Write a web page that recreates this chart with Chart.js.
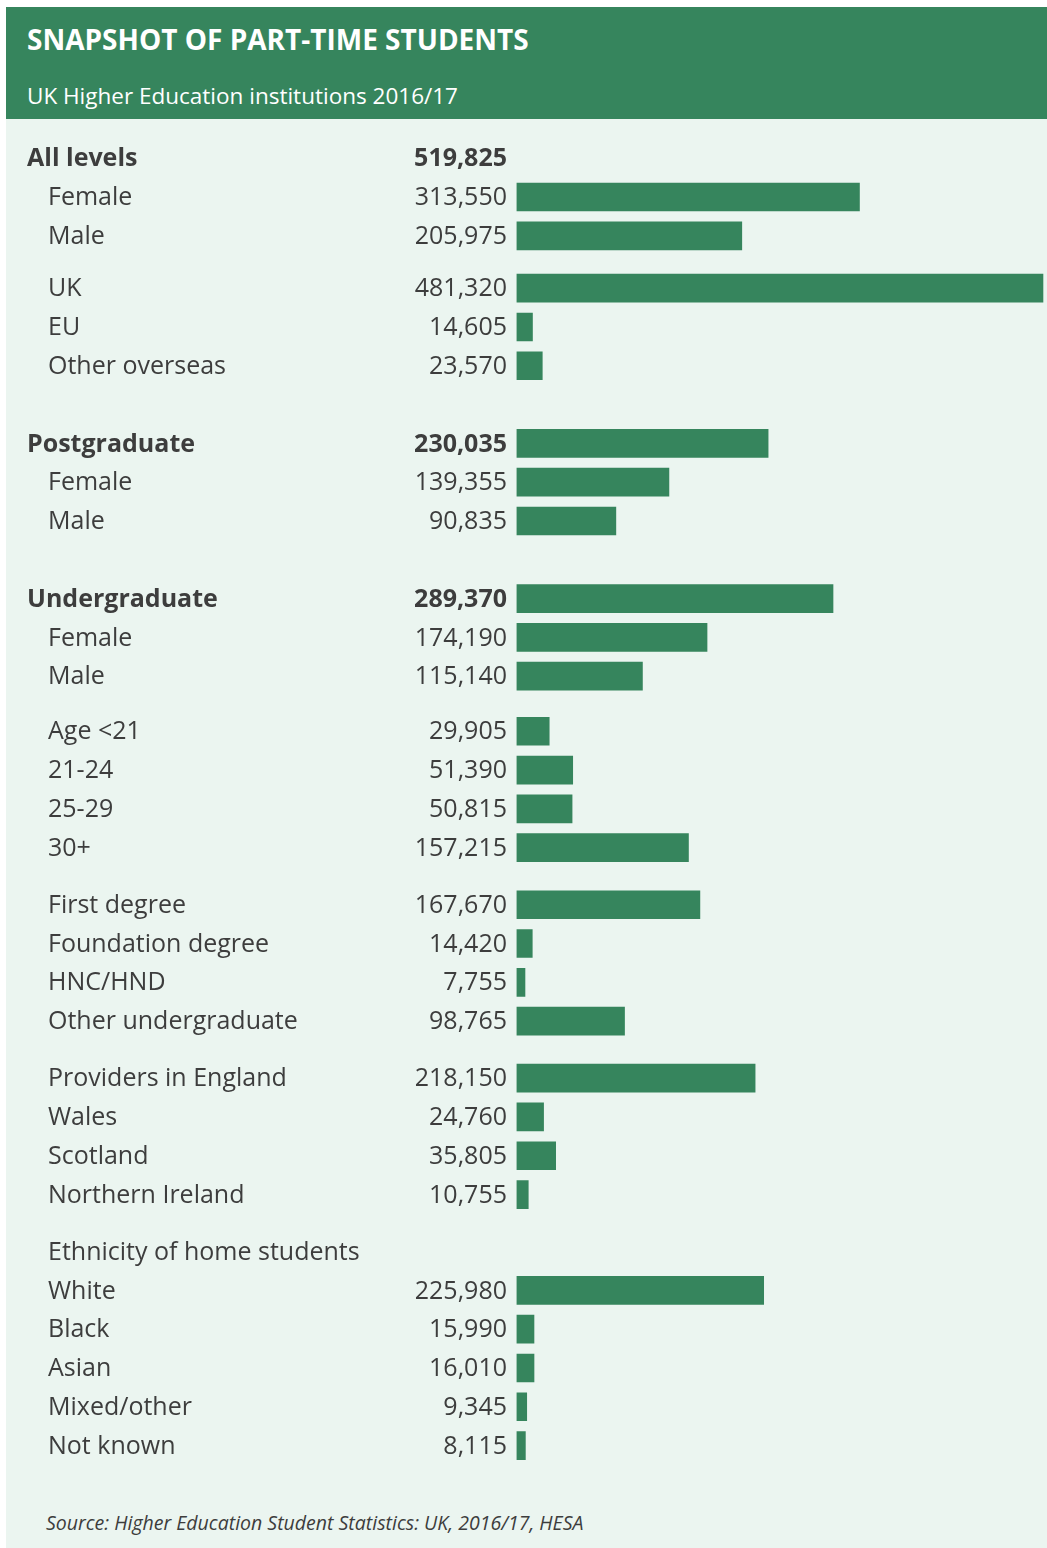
<!DOCTYPE html>
<html>
<head>
<meta charset="utf-8">
<script src="https://cdn.jsdelivr.net/npm/chart.js@4"></script>
<style>
  html, body { margin: 0; padding: 0; background: #fff; }
  body { width: 1047px; height: 1548px; position: relative; overflow: hidden; font-family: "Open Sans", sans-serif; }
  #header { position: absolute; left: 6px; top: 7px; width: 1041px; height: 112px; background: #36855d; color: #fff; }
  #title { position: absolute; left: 21px; top: 14px; font-size: 28px; font-weight: 700; line-height: 36px; white-space: nowrap; }
  #subtitle { position: absolute; left: 21px; top: 74px; font-size: 22.5px; font-weight: 400; line-height: 30px; white-space: nowrap; }
  #panel { position: absolute; left: 6px; top: 119px; width: 1041px; height: 1429px; background: #ebf5f0; }
  #chart { position: absolute; left: 0; top: 0; }
  #source { position: absolute; left: 40px; top: 1390px; font-size: 19.5px; font-style: italic; color: #3d3d3d; line-height: 28px; white-space: nowrap; }
</style>
</head>
<body>
<div id="header">
  <div id="title">SNAPSHOT OF PART-TIME STUDENTS</div>
  <div id="subtitle">UK Higher Education institutions 2016/17</div>
</div>
<div id="panel">
  <canvas id="chart" width="1041" height="1380"></canvas>
  <div id="source">Source: Higher Education Student Statistics: UK, 2016/17, HESA</div>
</div>
<script>
// rows, top to bottom
const labels = [
  "All levels", "Female", "Male", "UK", "EU", "Other overseas",
  "Postgraduate", "Female", "Male",
  "Undergraduate", "Female", "Male",
  "Age <21", "21-24", "25-29", "30+",
  "First degree", "Foundation degree", "HNC/HND", "Other undergraduate",
  "Providers in England", "Wales", "Scotland", "Northern Ireland",
  "Ethnicity of home students", "White", "Black", "Asian", "Mixed/other", "Not known"
];
const values = [
  519825, 313550, 205975, 481320, 14605, 23570,
  230035, 139355, 90835,
  289370, 174190, 115140,
  29905, 51390, 50815, 157215,
  167670, 14420, 7755, 98765,
  218150, 24760, 35805, 10755,
  null, 225980, 15990, 16010, 9345, 8115
];
const boldRows = ["All levels", "Postgraduate", "Undergraduate"];
const noBarRows = ["All levels"]; // total is shown as a number only

// layout: extra space (in rows) before a row index
const gapBefore = { 3: 0.35, 6: 1, 9: 1, 12: 0.42, 16: 0.47, 20: 0.47, 24: 0.47 };
const ROW_PX = 38.8;
const FIRST_ROW_Y = 39.2; // canvas px of row 0 centre
const GREEN = "#36855d";
const TEXT = "#3d3d3d";

// row positions on the y scale
const rowPos = [];
let p = 0;
labels.forEach((l, i) => {
  if (i > 0) p += 1 + (gapBefore[i] || 0);
  rowPos.push(p);
});

const barData = [];
labels.forEach((l, i) => {
  if (values[i] == null || noBarRows.includes(l)) return;
  barData.push({ x: values[i], y: rowPos[i] });
});

function fmt(v) {
  return String(v).replace(/\B(?=(\d{3})+(?!\d))/g, ",");
}

const rowText = {
  id: "rowText",
  afterDatasetsDraw(chart) {
    const ctx = chart.ctx;
    const yScale = chart.scales.y;
    ctx.save();
    ctx.fillStyle = TEXT;
    ctx.textBaseline = "middle";
    labels.forEach((l, i) => {
      const y = yScale.getPixelForValue(rowPos[i]) + 1;
      const bold = boldRows.includes(l);
      ctx.font = (bold ? "700 " : "400 ") + "25px 'Open Sans'";
      ctx.textAlign = "left";
      ctx.fillText(l, bold ? 21 : 42, y);
      if (values[i] != null) {
        ctx.textAlign = "right";
        ctx.fillText(fmt(values[i]), 501, y);
      }
    });
    ctx.restore();
  }
};

const canvasH = 1380;
const yMin = -FIRST_ROW_Y / ROW_PX;
const yMax = yMin + canvasH / ROW_PX;

new Chart(document.getElementById("chart"), {
  type: "bar",
  data: {
    datasets: [{
      data: barData,
      backgroundColor: GREEN,
      borderWidth: 0,
      barThickness: 28
    }]
  },
  options: {
    indexAxis: "y",
    responsive: false,
    animation: false,
    devicePixelRatio: 1,
    layout: { padding: { left: 510.5, right: 0, top: 0, bottom: 0 } },
    plugins: { legend: { display: false }, tooltip: { enabled: false } },
    scales: {
      x: { type: "linear", min: 0, max: 485000, display: false },
      y: { type: "linear", reverse: true, offset: false, min: yMin, max: yMax, display: false }
    }
  },
  plugins: [rowText]
});
</script>
</body>
</html>
